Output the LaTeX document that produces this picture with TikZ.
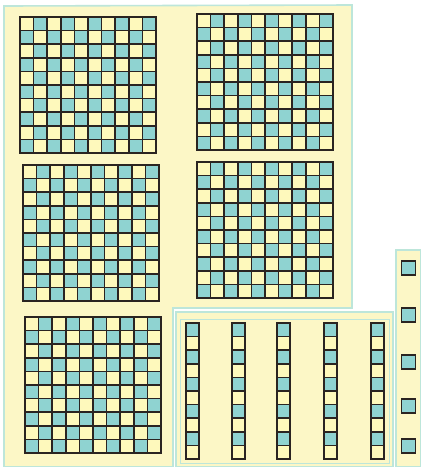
\documentclass[tikz,border=0pt]{standalone}
\usetikzlibrary{calc}
\definecolor{cpanel}{HTML}{FCF7C6}
\definecolor{cyell}{HTML}{FEF9BC}
\definecolor{cblue}{HTML}{8FD3D1}
\definecolor{cedge}{HTML}{BDE6DA}
\definecolor{cink}{HTML}{2A2421}
\tikzset{
  every picture/.style={x=1pt, y=-1pt},
  panel/.style={draw=cedge, fill=cpanel, line width=1.6pt},
  rim/.style={draw=cedge, line width=1pt},
  cell/.style={draw=cink, fill=#1, line width=1.7pt},
  cell/.default=cyell,
  frame/.style={draw=cink, line width=2.2pt},
}
\begin{document}
\begin{tikzpicture}
  \useasboundingbox[fill=white] (0,0) rectangle (421,467);
  % panels
  \draw[panel] (4,6) -- (352,5) -- (352,308) -- (173,308) -- (173,467) -- (4,467) -- cycle;
  \draw[panel] (176,312) rectangle (393,467);
  \draw[rim] (180,319) rectangle (389,463);
  \draw[panel] (396,250) rectangle (421,467);
  % hundred squares
  \foreach \gx/\gy [count=\g] in {20/17, 197/14, 23/165, 197/162, 25/317} {
    \foreach \i in {0,...,9}
      \foreach \j in {0,...,9} {
        \pgfmathtruncatemacro\odd{mod(\i+\j,2)}
        \ifnum\odd=1
          \draw[cell=cblue] ({\gx+\i*13.6},{\gy+\j*13.6}) rectangle ++(13.6,13.6);
        \else
          \draw[cell] ({\gx+\i*13.6},{\gy+\j*13.6}) rectangle ++(13.6,13.6);
        \fi
      }
    \draw[frame] (\gx,\gy) rectangle ++(136,136);
  }
  % tens
  \foreach \cx in {186, 232, 277, 324, 371}
    \foreach \j in {0,...,9} {
      \pgfmathtruncatemacro\odd{mod(\j,2)}
      \ifnum\odd=0
        \draw[cell=cblue] (\cx,{323+\j*13.6}) rectangle ++(12.8,13.6);
      \else
        \draw[cell] (\cx,{323+\j*13.6}) rectangle ++(12.8,13.6);
      \fi
    }
  % ones
  \foreach \uy in {261, 308, 355, 399, 439}
    \draw[cell=cblue] (401.5,\uy) rectangle ++(14,14);
\end{tikzpicture}
\end{document}
